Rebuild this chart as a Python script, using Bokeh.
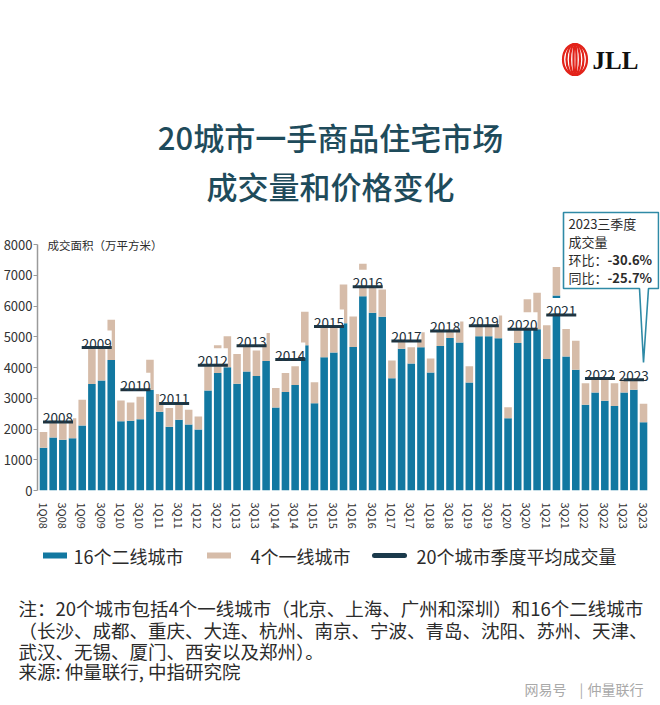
from bokeh.plotting import figure
from bokeh.models import Range1d, FixedTicker, ColumnDataSource
from bokeh.layouts import column
from bokeh.embed import file_html
from bokeh.resources import INLINE
from bokeh.core.properties import value

# ---------------- data ----------------
quarters = ["1Q08", "2Q08", "3Q08", "4Q08", "1Q09", "2Q09", "3Q09", "4Q09",
            "1Q10", "2Q10", "3Q10", "4Q10", "1Q11", "2Q11", "3Q11", "4Q11",
            "1Q12", "2Q12", "3Q12", "4Q12", "1Q13", "2Q13", "3Q13", "4Q13",
            "1Q14", "2Q14", "3Q14", "4Q14", "1Q15", "2Q15", "3Q15", "4Q15",
            "1Q16", "2Q16", "3Q16", "4Q16", "1Q17", "2Q17", "3Q17", "4Q17",
            "1Q18", "2Q18", "3Q18", "4Q18", "1Q19", "2Q19", "3Q19", "4Q19",
            "1Q20", "2Q20", "3Q20", "4Q20", "1Q21", "2Q21", "3Q21", "4Q21",
            "1Q22", "2Q22", "3Q22", "4Q22", "1Q23", "2Q23", "3Q23"]

# 16 second-tier cities (10k sqm)
tier2 = [1390, 1720, 1650, 1700, 2110, 3460, 3580, 4240,
         2250, 2270, 2320, 3280, 2560, 2070, 2300, 2150,
         1980, 3250, 3820, 4010, 3470, 3870, 3720, 4210,
         2700, 3200, 3430, 4720, 2840, 4330, 4490, 5440,
         4670, 6320, 5780, 5650, 3650, 4610, 4130, 4660,
         3840, 4700, 4960, 4810, 3510, 5020, 5020, 4950,
         2350, 4800, 5220, 5240, 4280, 6340, 4360, 3930,
         2790, 3190, 2920, 2750, 3190, 3280, 2220]

# 4 first-tier cities (10k sqm)
tier1 = [510, 580, 630, 650, 840, 1490, 1470, 1310,
         680, 590, 730, 970, 580, 610, 570, 480,
         430, 880, 900, 1010, 970, 860, 830, 910,
         630, 620, 610, 1090, 680, 1120, 1110, 1260,
         990, 1050, 1120, 890, 580, 690, 530, 490,
         450, 550, 760, 690, 530, 830, 830, 740,
         360, 800, 1000, 1190, 1090, 930, 890, 940,
         700, 590, 880, 740, 730, 780, 600]

years = ["2008", "2009", "2010", "2011", "2012", "2013", "2014", "2015",
         "2016", "2017", "2018", "2019", "2020", "2021", "2022", "2023"]
year_avg = [2230, 4650, 3280, 2830, 4070, 4710, 4260, 5330,
            6630, 4860, 5190, 5360, 5240, 5710, 3640, 3600]

y_ticks = [0, 1000, 2000, 3000, 4000, 5000, 6000, 7000, 8000]

title_lines = ["20城市一手商品住宅市场", "成交量和价格变化"]
y_title = "成交面积（万平方米）"
legend_labels = ["16个二线城市", "4个一线城市", "20个城市季度平均成交量"]
callout_lines = ["2023三季度", "成交量"]
callout_pairs = [("环比：", "-30.6%"), ("同比：", "-25.7%")]
notes = ["注：20个城市包括4个一线城市（北京、上海、广州和深圳）和16个二线城市",
         "（长沙、成都、重庆、大连、杭州、南京、宁波、青岛、沈阳、苏州、天津、",
         "武汉、无锡、厦门、西安以及郑州）。",
         "来源: 仲量联行, 中指研究院"]

# ---------------- style ----------------
FONT = value("Noto Sans CJK SC")
TEAL = "#1278a1"
BEIGE = "#d6bca9"
NAVY = "#1b3a4b"
TITLE_C = "#1e4b5b"
TXT = "#2b2b2b"
W = 660
FL, FR = 37, 659          # chart frame left / right (page px)


def blank(h):
    p = figure(width=W, height=h, x_range=Range1d(0, W), y_range=Range1d(h, 0),
               output_backend="svg", toolbar_location=None, title=None,
               x_axis_type=None, y_axis_type=None, min_border=0,
               min_border_left=0, min_border_right=0, min_border_top=0,
               min_border_bottom=0, outline_line_color=None,
               background_fill_color="white", border_fill_color="white")
    p.grid.visible = False
    if "frame_align" in p.properties():
        p.frame_align = False
    return p


# ---------------- header ----------------
HH = 208
hdr = blank(HH)
hdr.ellipse(x=[574.5] * 4, y=[59] * 4, width=[24, 17, 10, 3], height=[31] * 4,
            fill_color=None, line_color="#e2231a", line_width=2.2)
hdr.text(x=[592], y=[60], text=["JLL"], text_font=value("Liberation Serif"),
         text_font_style="bold", text_font_size="25px", text_color="#111111",
         text_baseline="middle", text_align="left")
hdr.text(x=[330, 330], y=[136, 185], text=title_lines,
         text_font=value("Noto Sans CJK SC Medium"),
         text_font_size="31px", text_color=TITLE_C, text_align="center",
         text_baseline="middle")

# ---------------- chart ----------------
CH = 335
FB = 282
YT = FB / 246 * 8000
PXY = YT / FB             # data units per screen pixel (vertical)
XS, XE = -0.62, 63.65

ch = figure(width=W, height=CH, x_range=Range1d(XS, XE), y_range=Range1d(0, YT),
            output_backend="svg", toolbar_location=None, title=None,
            min_border_left=FL, min_border_right=W - FR, min_border_top=0,
            min_border_bottom=CH - FB, outline_line_color=None,
            background_fill_color="white", border_fill_color="white")
ch.grid.visible = False
if "frame_align" in ch.properties():
    ch.frame_align = False


def dx(xr):
    return XS + (xr - FL) / (FR - FL) * (XE - XS)


def dy(yr):
    return (FB - (yr - HH)) / FB * YT


src = ColumnDataSource(dict(x=list(range(len(quarters))), tier2=tier2, tier1=tier1))
ch.vbar_stack(["tier2", "tier1"], x="x", width=0.78, source=src,
              fill_color=[TEAL, BEIGE], line_color=None)

starts = [4 * i for i in range(len(years))]
ends = [min(4 * i + 3, len(quarters) - 1) for i in range(len(years))]
centers = [(s + e) / 2 for s, e in zip(starts, ends)]
# white plates behind the year labels
ch.quad(left=[c - 1.55 for c in centers], right=[c + 1.55 for c in centers],
        bottom=[a + 1.5 * PXY for a in year_avg],
        top=[a + 17 * PXY for a in year_avg],
        fill_color="white", line_color=None)
ch.segment(x0=[s - 0.05 for s in starts], x1=[e + 0.05 for e in ends],
           y0=year_avg, y1=year_avg, line_width=3, line_color=NAVY)
ch.text(x=centers, y=year_avg, text=years,
        text_align="center", text_baseline="alphabetic", y_offset=-4,
        text_font=FONT, text_font_size="13.5px", text_color="#22303a")

ch.text(x=[dx(47)], y=[8000], text=[y_title], text_align="left",
        text_baseline="middle", text_font=FONT, text_font_size="11.5px",
        text_color=TXT)

# callout box
bl, br, bt, bb = 563, 658, 212, 288
ptx = [dx(v) for v in [bl, br, br, 648, 643, 639, bl]]
pty = [dy(v) for v in [bt, bt, bb, bb, 362, bb, bb]]
ch.patch(ptx, pty, fill_color="white", line_color="#2f8aa6", line_width=1.6)
ch.text(x=[dx(568)] * 2, y=[dy(223), dy(241)], text=callout_lines,
        text_align="left", text_baseline="middle", text_font=FONT,
        text_font_size="13px", text_color=TXT)
ch.text(x=[dx(568)] * 2, y=[dy(259), dy(277)], text=[a for a, b in callout_pairs],
        text_align="left", text_baseline="middle", text_font=FONT,
        text_font_size="13px", text_color=TXT)
ch.text(x=[dx(607)] * 2, y=[dy(259), dy(277)], text=[b for a, b in callout_pairs],
        text_align="left", text_baseline="middle", text_font=FONT,
        text_font_style="bold", text_font_size="13px", text_color=TXT)

# axes
ya = ch.yaxis[0]
ya.ticker = FixedTicker(ticks=y_ticks)
ya.bounds = (0, 8000)
ya.axis_line_color = "#9a9a9a"
ya.axis_line_width = 1.5
ya.major_tick_line_color = "#9a9a9a"
ya.major_tick_in = 0
ya.major_tick_out = 4
ya.minor_tick_line_color = None
ya.major_label_standoff = 1
ya.major_label_text_font = "Noto Sans CJK SC"
ya.major_label_text_font_size = "13px"
ya.major_label_text_color = "#333333"

xa = ch.xaxis[0]
xa.ticker = FixedTicker(ticks=list(range(0, len(quarters), 2)))
xa.major_label_overrides = {i: quarters[i] for i in range(0, len(quarters), 2)}
xa.major_label_orientation = "vertical"
xa.axis_line_color = None
xa.major_tick_line_color = None
xa.minor_tick_line_color = None
xa.major_tick_out = 0
xa.major_tick_in = 0
xa.major_label_standoff = 12
xa.major_label_text_font = "Noto Sans CJK SC"
xa.major_label_text_font_size = "11px"
xa.major_label_text_color = "#333333"

# ---------------- footer ----------------
FT = HH + CH
FH = 705 - FT
ftr = blank(FH)
LY = 555 - FT
ftr.rect(x=[54.5, 218.5], y=[LY, LY], width=[24, 24], height=[6, 6],
         fill_color=[TEAL, BEIGE], line_color=None)
ftr.segment(x0=[374], x1=[404], y0=[LY], y1=[LY], line_width=5,
            line_color=NAVY, line_cap="round")
ftr.text(x=[73, 250, 416], y=[LY] * 3, text=legend_labels, text_align="left",
         text_baseline="middle", text_font=FONT, text_font_size="18px",
         text_color=TXT)

ftr.text(x=[18] * 4, y=[v - FT for v in [607, 629, 650, 670]], text=notes,
         text_align="left", text_baseline="middle", text_font=FONT,
         text_font_size="18.5px", text_color=TXT)

ftr.text(x=[524, 579, 587], y=[688 - FT] * 3, text=["网易号", "|", "仲量联行"],
         text_align="left", text_baseline="middle", text_font=FONT,
         text_font_size="14px", text_color="#a9a9a9")

layout = column(hdr, ch, ftr, spacing=0)
open("out.html", "w").write(file_html(layout, INLINE))
